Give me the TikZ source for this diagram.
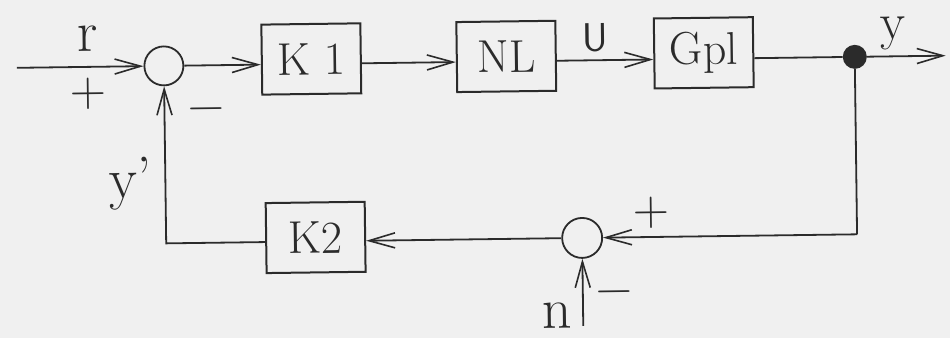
\documentclass[tikz,border=0pt]{standalone}
\usetikzlibrary{arrows.meta}
\definecolor{ink}{HTML}{2B2B2B}
\definecolor{paper}{HTML}{F0F0F0}
\begin{document}
\begin{tikzpicture}[x=1pt,y=-1pt,
  ln/.style={draw=ink,line width=1.8pt},
  arr/.style={ln,-{Straight Barb[length=26pt,width=15pt,line width=1.6pt]}},
  blk/.style={draw=ink,line width=2pt,minimum width=99pt,minimum height=70pt,
    inner sep=0pt,font=\fontsize{46}{50}\selectfont,text=ink},
  sumc/.style={circle,draw=ink,line width=1.8pt,minimum size=39pt,inner sep=0pt},
  lbl/.style={font=\fontsize{58}{60}\selectfont,text=ink,inner sep=0pt},
  sgn/.style={font=\fontsize{50}{50}\selectfont,text=ink,inner sep=0pt},
  dotc/.style={circle,fill=ink,minimum size=24pt,inner sep=0pt}]
\fill[paper] (0,0) rectangle (950,338);
\useasboundingbox (0,0) rectangle (950,338);
\begin{scope}[rotate around={0.75:(500,150)},transform shape]
  % forward path
  \coordinate (in) at (18,61.5);
  \node[sumc] (s1) at (165,61.5) {};
  \node[blk] (k1) at (312.5,56.5) {K 1};
  \node[blk] (nl) at (507.5,56.5) {NL};
  \node[blk] (gp) at (705,55.5) {Gpl};
  \node[dotc] (dt) at (856,61.5) {};
  \coordinate (out) at (947,61.5);
  % feedback path
  \node[sumc,minimum size=40pt] (s2) at (581,239) {};
  \node[blk] (k2) at (314.5,235) {K2};
  \coordinate (cr) at (856,239);
  \coordinate (nin) at (581,327);

  \draw[arr] (in) -- (s1);
  \draw[arr] (s1) -- (s1 -| k1.west);
  \draw[arr] (k1.east |- s1) -- (nl.west |- s1);
  \draw[arr] (nl.east |- s1) -- (gp.west |- s1);
  \draw[ln] (gp.east |- s1) -- (dt);
  \draw[arr] (dt) -- (out);
  \draw[ln] (dt) -- (cr);
  \draw[arr] (cr) -- (s2);
  \draw[arr] (s2) -- (s2 -| k2.east);
  \draw[arr] (k2.west |- s2) -- (s1 |- s2) -- (s1);
  \draw[arr] (nin) -- (s2);

  % signal names and signs
  \node[lbl] (lr) at (89,33) {r};
  \node[sgn] (p1) at (89,88.5) {+};
  \node[sgn] (m1) at (207,111) {−};
  \node[lbl,font=\fontsize{40}{40}\selectfont\sffamily] (lu) at (597,39) {U};
  \node[lbl,font=\fontsize{52}{54}\selectfont] (ly) at (895,39) {y};
  \node[lbl] (lyp) at (130,179) {y’};
  \node[sgn] (p2) at (650,215) {+};
  \node[sgn] (m2) at (612,299) {−};
  \node[lbl] (lnn) at (555,316) {n};
\end{scope}
\end{tikzpicture}
\end{document}
